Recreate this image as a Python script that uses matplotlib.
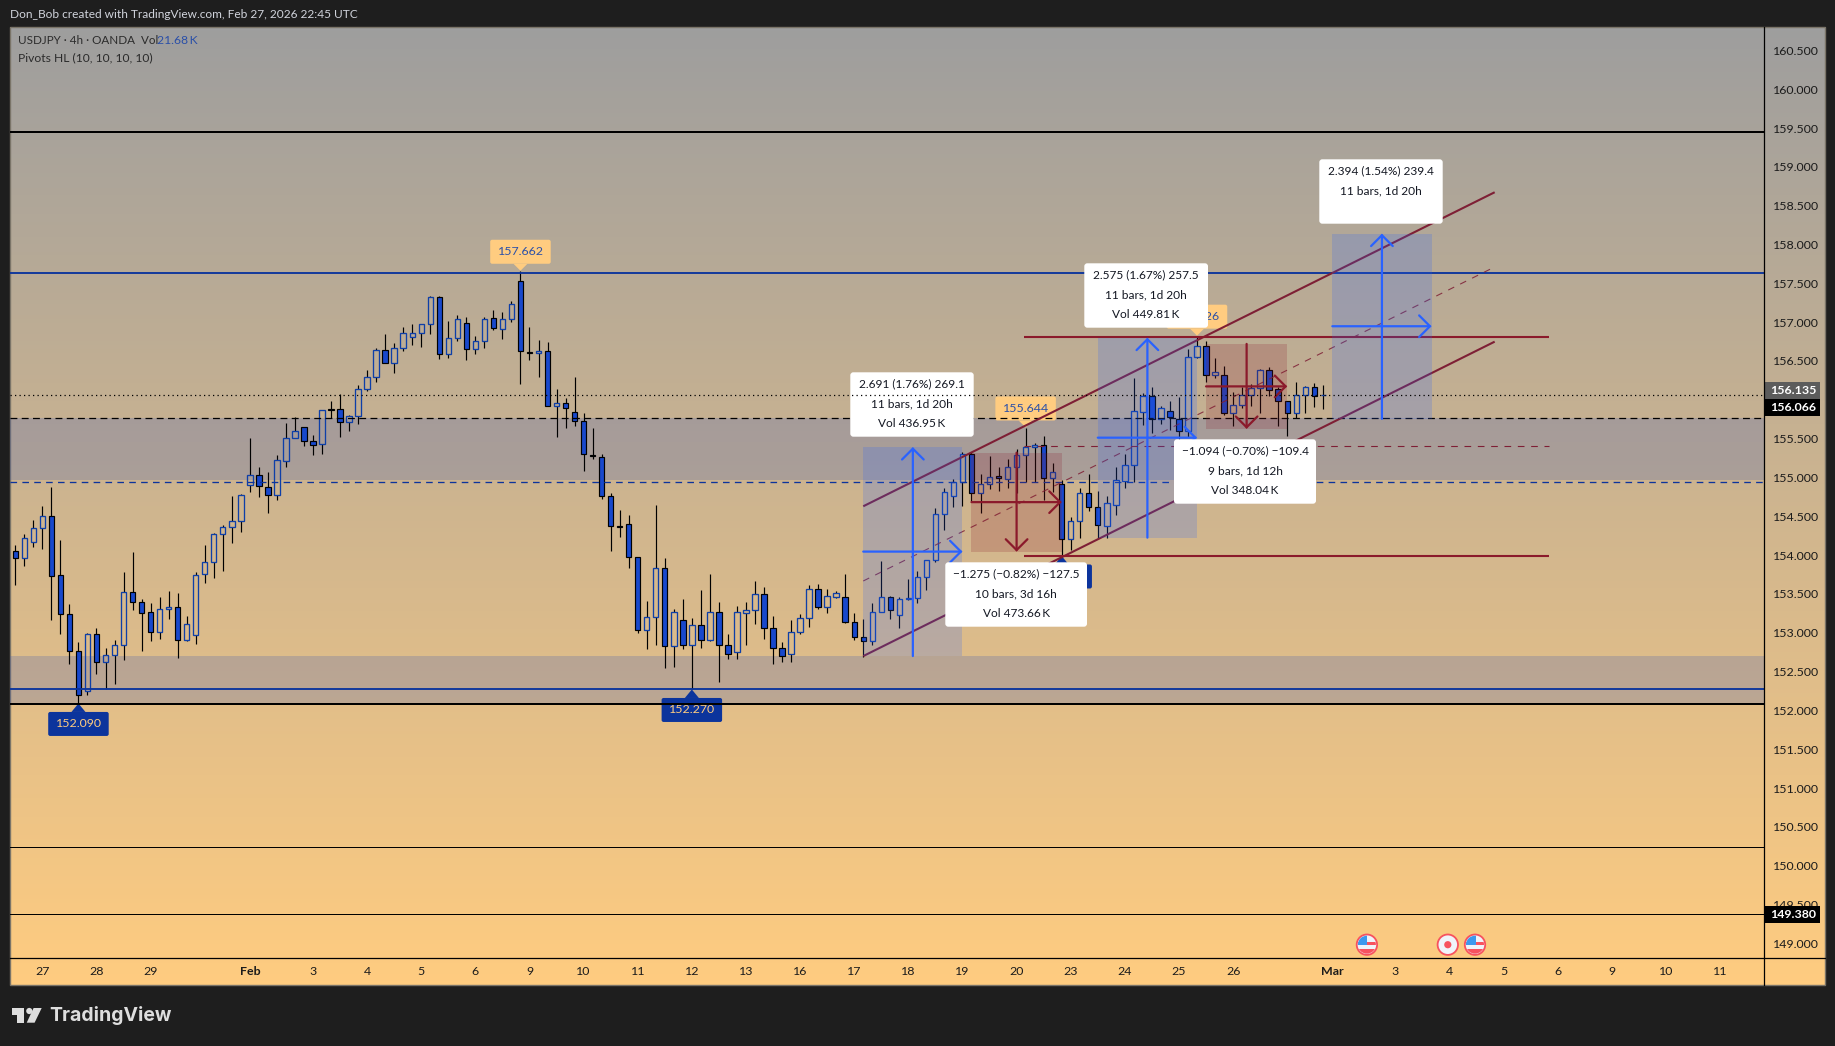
import numpy as np
import matplotlib
matplotlib.use('Agg')
import matplotlib.pyplot as plt
from matplotlib.patches import FancyBboxPatch, FancyArrowPatch, Polygon, Circle, Rectangle

W, H = 1835, 1046
FONT = 'Lato'
plt.rcParams['font.family'] = [FONT, 'DejaVu Sans']

# ---------------- data ----------------
opens = [154.049,153.959,154.165,154.346,154.500,153.740,153.238,152.762,152.247,152.981,152.620,152.710,152.839,153.522,153.393,153.264,153.007,153.303,153.328,152.904,152.968,153.753,153.908,154.268,154.358,154.436,154.899,155.028,154.874,154.771,155.217,155.505,155.646,155.466,155.428,155.878,155.878,155.711,155.788,156.136,156.290,156.638,156.471,156.664,156.805,156.857,156.973,157.320,156.586,156.792,156.986,156.651,156.754,157.050,156.916,157.045,157.526,156.620,156.599,156.633,155.916,155.955,155.848,155.723,155.294,155.268,154.758,154.371,154.397,153.972,153.032,153.200,153.831,152.826,153.161,152.839,153.097,152.903,153.264,152.839,152.749,153.251,153.290,153.496,153.058,152.800,152.723,153.006,153.187,153.560,153.328,153.457,153.457,153.135,152.942,152.891,153.264,153.457,153.234,153.431,153.452,153.714,153.933,154.525,154.766,154.937,155.298,154.796,154.912,155.015,154.976,155.131,155.285,155.392,155.414,154.989,154.912,154.204,154.435,154.796,154.616,154.380,154.650,154.959,155.157,155.848,156.045,155.749,155.852,155.758,155.595,156.547,156.689,156.316,156.324,155.826,155.929,156.058,156.148,156.380,156.135,155.981,155.826,156.058,156.161,156.058]
highs = [154.127,154.268,154.453,154.629,154.878,154.195,153.371,152.878,152.998,153.058,152.805,152.908,153.783,154.041,153.431,153.384,153.461,153.539,153.513,153.217,153.783,154.131,154.285,154.388,154.762,154.788,155.509,155.135,155.067,155.286,155.702,155.780,155.646,155.543,155.865,155.986,156.071,155.801,156.187,156.380,156.664,156.848,156.728,156.934,156.973,156.973,157.333,157.333,157.016,157.089,157.067,156.818,157.063,157.153,157.131,157.273,157.662,156.938,156.770,156.740,156.140,156.019,156.294,155.831,155.633,155.298,154.796,154.582,154.517,153.972,153.410,154.646,153.959,153.303,153.431,153.191,153.552,153.758,153.393,152.981,153.346,153.393,153.667,153.586,153.213,152.878,153.161,153.243,153.612,153.629,153.564,153.539,153.758,153.251,153.178,153.388,153.925,153.478,153.457,153.693,153.796,153.940,154.603,154.860,154.976,155.324,155.324,155.045,155.276,155.131,155.234,155.362,155.633,155.440,155.534,155.182,154.967,154.487,154.860,155.045,154.826,154.762,155.135,155.303,156.277,156.084,156.165,155.925,155.985,156.032,156.659,156.826,156.758,156.539,156.436,156.097,156.170,156.200,156.397,156.423,156.170,155.981,156.234,156.178,156.217,156.187]
lows = [153.620,153.865,154.110,154.084,153.170,152.989,152.603,152.090,152.204,152.474,152.277,152.346,152.655,153.298,152.770,152.899,152.925,153.182,152.680,152.895,152.861,153.646,153.710,153.796,154.161,154.294,154.818,154.753,154.548,154.715,155.140,155.505,155.410,155.295,155.307,155.771,155.526,155.599,155.694,156.119,156.234,156.471,156.350,156.629,156.711,156.681,156.848,156.531,156.543,156.758,156.513,156.591,156.668,156.904,156.788,157.002,156.208,156.513,156.298,155.916,155.526,155.642,155.667,155.088,155.243,154.728,154.054,154.234,153.835,153.002,152.796,152.848,152.552,152.564,152.796,152.270,152.805,152.895,152.371,152.667,152.667,152.848,153.118,152.921,152.594,152.629,152.629,152.981,153.079,153.303,153.260,153.450,153.130,152.903,152.693,152.848,153.264,153.178,153.062,153.425,153.388,153.551,153.916,154.324,154.620,154.633,154.697,154.547,154.852,154.826,154.860,154.796,154.937,154.937,154.710,154.809,153.989,154.066,154.221,154.564,154.221,154.225,154.522,154.869,154.946,155.676,155.577,155.689,155.612,155.346,155.526,156.540,156.234,156.286,155.805,155.659,155.899,155.921,155.835,156.049,155.663,155.539,155.760,155.835,155.904,155.886]
closes = [153.959,154.217,154.346,154.500,153.728,153.238,152.762,152.195,152.981,152.620,152.710,152.839,153.522,153.393,153.251,153.007,153.303,153.328,152.904,153.110,153.740,153.908,154.268,154.358,154.436,154.770,155.028,154.886,154.771,155.222,155.505,155.595,155.466,155.415,155.865,155.874,155.711,155.788,156.136,156.290,156.638,156.471,156.664,156.857,156.857,156.973,157.320,156.586,156.792,157.037,156.651,156.754,157.037,156.921,157.045,157.230,156.625,156.599,156.633,155.916,155.955,155.891,155.723,155.298,155.273,154.758,154.371,154.367,153.972,153.032,153.200,153.831,152.826,153.264,152.839,153.097,152.903,153.264,152.839,152.723,153.264,153.290,153.496,153.058,152.800,152.697,153.006,153.187,153.560,153.328,153.470,153.509,153.135,152.942,152.891,153.264,153.457,153.289,153.431,153.452,153.714,153.933,154.525,154.809,154.937,155.298,154.796,154.912,155.002,154.989,155.131,155.285,155.388,155.414,154.989,155.066,154.204,154.435,154.796,154.616,154.384,154.667,154.964,155.157,155.852,156.045,155.749,155.891,155.775,155.595,156.547,156.689,156.316,156.354,155.826,155.929,156.058,156.148,156.380,156.122,155.981,155.826,156.058,156.161,156.045,156.066]

date_ticks = [3,9,15,26,33,39,45,51,57,63,69,75,81,87,93,99,105,111,117,123,129,135,146,153,159,165,171,177,183,189]
date_labels = ['27','28','29','Feb','3','4','5','6','9','10','11','12','13','16','17','18','19','20','23','24','25','26','Mar','3','4','5','6','9','10','11']
price_ticks = [149.0,149.5,150.0,150.5,151.0,151.5,152.0,152.5,153.0,153.5,154.0,154.5,155.0,155.5,156.5,157.0,157.5,158.0,158.5,159.0,159.5,160.0,160.5]

zones = [(154.967, 155.76), (152.09, 152.70)]
black_levels = [(159.453, 2.0), (152.08, 2.0), (150.235, 1.0), (149.38, 1.0)]
blue_levels = [157.637, 152.27]
blue_dashed = 154.94
black_dashed = 155.76
last_price = 156.066

channel_bars = [94, 164]
channel_upper = [154.629, 158.673]
channel_mid = [153.667, 157.711]
channel_lower = [152.70, 156.749]
fib_bars = [111.8, 170]
fib_top, fib_mid, fib_bottom = 156.81, 155.40, 153.99

# (bar_start, bar_end, price_from, price_to)
long_ranges = [(94, 105, 152.70, 155.391), (120, 131, 154.225, 156.80), (146, 157, 155.755, 158.14)]
short_ranges = [(106, 116, 155.32, 154.045), (132, 141, 156.72, 155.626)]
# (bar, price, label, is_high)
pivots = [(56, 157.662, '157.662', True), (112, 155.644, '155.644', True), (131, 156.826, '156.826', True),
          (7, 152.090, '152.090', False), (75, 152.270, '152.270', False), (116, 153.989, '', False)]
# (left, top, right, lines) of the measure boxes
boxes = [(850.3, 372.3, 973.7, ['2.691 (1.76%) 269.1', '11 bars, 1d 20h', 'Vol 436.95\u2009K']),
         (945.3, 562.3, 1087, ['\u22121.275 (\u22120.82%) \u2212127.5', '10 bars, 3d 16h', 'Vol 473.66\u2009K']),
         (1084.3, 263.3, 1208, ['2.575 (1.67%) 257.5', '11 bars, 1d 20h', 'Vol 449.81\u2009K']),
         (1174, 439.3, 1316, ['\u22121.094 (\u22120.70%) \u2212109.4', '9 bars, 1d 12h', 'Vol 348.04\u2009K']),
         (1319.3, 159.3, 1442.7, ['2.394 (1.54%) 239.4', '11 bars, 1d 20h', ''])]

# ---------------- frame ----------------
DARK = '#1E1E1E'
fig = plt.figure(figsize=(W / 100, H / 100), dpi=100, facecolor=DARK)

def frac(l, t, r, b):
    return [l / W, 1 - b / H, (r - l) / W, (b - t) / H]

bg = fig.add_axes([0, 0, 1, 1], zorder=0)
bg.set_xlim(0, W); bg.set_ylim(H, 0); bg.axis('off')
top_c = np.array([158, 158, 158]) / 255
bot_c = np.array([255, 204, 128]) / 255
t = np.linspace(0, 1, 256)[:, None, None]
bg.imshow(top_c[None, None, :] * (1 - t) + bot_c[None, None, :] * t, extent=[10, 1825, 985, 27], aspect='auto')
bg.set_xlim(0, W); bg.set_ylim(H, 0)
bg.add_patch(Rectangle((10, 27), 1815, 958, fill=False, ec='#7a7468', lw=1))

ax = fig.add_axes(frac(10, 27, 1763.5, 958), zorder=1)
ax.patch.set_alpha(0)
ax.set_xlim(-0.588, 193.8)
ax.set_ylim(148.812, 160.801)
for s in ax.spines.values():
    s.set_visible(False)

ui = fig.add_axes([0, 0, 1, 1], zorder=2)
ui.set_xlim(0, W); ui.set_ylim(H, 0); ui.axis('off'); ui.patch.set_alpha(0)
UI = ui.transData

# ticks
TEXT = '#1b1b1b'
LABEL_FS = 8.9
ax.yaxis.tick_right()
ax.set_yticks(price_ticks)
ax.set_yticklabels([f'{p:.3f}' for p in price_ticks], fontsize=LABEL_FS, color=TEXT)
ax.tick_params(axis='y', length=0, pad=6.5)
ax.set_xticks(date_ticks)
ax.set_xticklabels(date_labels, fontsize=LABEL_FS, color=TEXT)
ax.tick_params(axis='x', length=0, pad=6)
for lab in ax.get_xticklabels():
    if lab.get_text() in ('Feb', 'Mar'):
        lab.set_fontweight('bold')

# ---------------- zones and levels ----------------
for lo, hi in zones:
    ax.axhspan(lo, hi, color='#4960B1', alpha=0.25, lw=0, zorder=1)

# ---------------- pivots ----------------
def pivot_tag(n, price, label, is_high):
    x, y = ax.transData.transform((n, price))
    y = H - y
    face, col = ('#FFCC80', '#2A4FA8') if is_high else ('#0C349C', '#FFCC80')
    w, h, gap = 60.5, 24, 7
    if is_high:
        top = y - gap - h
        tri = [(x, y), (x - 7, y - gap), (x + 7, y - gap)]
    else:
        top = y + gap + 1.5
        tri = [(x, y), (x - 7, y + gap + 1.5), (x + 7, y + gap + 1.5)]
    ax.add_patch(Polygon(tri, closed=True, fc=face, ec='none', transform=UI, zorder=2, clip_on=False))
    ax.add_patch(FancyBboxPatch((x - w / 2 + 2, top + 2), w - 4, h - 4, boxstyle='round,pad=2,rounding_size=2',
                                fc=face, ec='none', transform=UI, zorder=2, clip_on=False))
    if label:
        ax.text(x, top + h / 2, label, color=col, fontsize=LABEL_FS, ha='center', va='center', transform=UI, zorder=2.1)

for piv in pivots:
    pivot_tag(*piv)

# ---------------- candles ----------------
BLUE_F, BLUE_E = '#1848CC', '#0E3FA8'
for i, (o, h_, l, c) in enumerate(zip(opens, highs, lows, closes)):
    top, bot = max(o, c), min(o, c)
    ax.vlines(i, top, h_, color='black', lw=0.85, zorder=3)
    ax.vlines(i, l, bot, color='black', lw=0.85, zorder=3)
    if c < o:
        ax.bar(i, top - bot, bottom=bot, width=0.6, fc=BLUE_F, ec='black', lw=0.85, zorder=3.1)
    else:
        ax.bar(i, top - bot, bottom=bot, width=0.6, fc='none', ec=BLUE_E, lw=0.95, zorder=3.1)

# ---------------- horizontal lines ----------------
for level, px in black_levels:
    ax.axhline(level, color='black', lw=px * 0.72, zorder=4)
for level in blue_levels:
    ax.axhline(level, color='#0C349C', lw=1.35, zorder=4)
ax.axhline(blue_dashed, color='#0C349C', lw=0.95, ls=(0, (5, 4)), zorder=4)
ax.axhline(black_dashed, color='black', lw=0.9, ls=(0, (5.5, 3.5)), zorder=4)

# ---------------- drawings ----------------
MAROON = '#8B1A2B'
CH = '#7E1F35'
ax.plot(channel_bars, channel_upper, color=CH, lw=1.5, zorder=5, solid_capstyle='butt')
ax.plot(channel_bars, channel_lower, color=CH, lw=1.5, zorder=5, solid_capstyle='butt')
ax.plot(channel_bars, channel_mid, color=CH, lw=0.8, ls=(0, (6, 6)), alpha=0.85, zorder=5)
ax.plot(fib_bars, [fib_top, fib_top], color=MAROON, lw=1.5, zorder=5, solid_capstyle='butt')
ax.plot(fib_bars, [fib_bottom, fib_bottom], color=MAROON, lw=1.5, zorder=5, solid_capstyle='butt')
ax.plot(fib_bars, [fib_mid, fib_mid], color=CH, lw=0.8, ls=(0, (6, 6)), zorder=5)

def arrow(p0, p1, col):
    ax.add_patch(FancyArrowPatch(p0, p1, arrowstyle='->,head_length=0.78,head_width=0.78', mutation_scale=10,
                                 color=col, lw=1.6, shrinkA=0, shrinkB=0, zorder=6, joinstyle='miter'))

def measure(rng, col):
    a, b, p0, p1 = rng
    ax.add_patch(Rectangle((a, min(p0, p1)), b - a, abs(p1 - p0), fc=col, ec='none', alpha=0.2, zorder=5.5))
    arrow(((a + b) / 2, p0), ((a + b) / 2, p1), col)
    mid = (p0 + p1) / 2
    arrow((a, mid), (b, mid), col)

for r in long_ranges:
    measure(r, '#2962FF')
for r in short_ranges:
    measure(r, MAROON)

# measure labels
for l, top, r, lines in boxes:
    ax.add_patch(FancyBboxPatch((l + 3, top + 3), r - l - 6, 64.4 - 6, boxstyle='round,pad=3,rounding_size=3',
                                fc='white', ec='none', transform=UI, zorder=7, clip_on=False))
    for k, s in enumerate(lines):
        if s:
            ax.text((l + r) / 2, top + 11.4 + 20 * k, s, color='#131722', fontsize=8.6, ha='center', va='center',
                    transform=UI, zorder=7.1)

# last price line over everything in the pane
ax.axhline(last_price, color='black', lw=0.9, ls=(0, (1, 2.6)), zorder=8)

# ---------------- chrome ----------------
ui.plot([10, 1825], [958, 958], color='black', lw=0.9)
ui.plot([1763.5, 1763.5], [27, 985], color='black', lw=0.9)

def price_tag(top, bottom, label, face):
    ui.add_patch(Rectangle((1763.5, top), 56.5, bottom - top, fc=face, ec='none'))
    ui.text(1793, (top + bottom) / 2, label, color='white', fontsize=LABEL_FS, ha='center', va='center', fontweight='bold')

price_tag(382, 399, '156.135', '#5C5C5C')
price_tag(399, 416, '156.066', 'black')
price_tag(906, 922.5, '149.380', 'black')

ui.text(10, 14.5, 'Don_Bob created with TradingView.com, Feb 27, 2026 22:45 UTC', color='#D1D4DC', fontsize=8.55, va='center')
ui.text(18, 41, 'USDJPY \u00b7 4h \u00b7 OANDA  Vol', color='#2b2b2b', fontsize=8.4, va='center')
ui.text(157, 41, '21.68\u2009K', color='#2A4FA8', fontsize=8.7, va='center')
ui.text(18, 58, 'Pivots HL (10, 10, 10, 10)', color='#2b2b2b', fontsize=8.7, va='center')

# logo
LOGO = '#DEDEDE'
ui.add_patch(Polygon([(12.3, 1008), (24, 1008), (24, 1022.7), (17.3, 1022.7), (17.3, 1015), (12.3, 1015)], closed=True, fc=LOGO, ec='none'))
ui.add_patch(Circle((29.3, 1011), 3.1, fc=LOGO, ec='none'))
ui.add_patch(Polygon([(33.6, 1008), (41.7, 1008), (34.6, 1022.7), (26.7, 1022.7)], closed=True, fc=LOGO, ec='none'))
ui.text(49.5, 1015.5, 'TradingView', color=LOGO, fontsize=14, fontfamily='Inter', fontweight='bold', va='center')

# calendar icons
def us_flag(cx, cy, r=10.2):
    ring = Circle((cx, cy), r, fc='#F0F3FA', ec='#F7525F', lw=1.3)
    ui.add_patch(ring)
    clip = Circle((cx, cy), r - 1.2, transform=UI)
    for s in [(cy - 3.2, 3.2, '#F7525F'), (cy + 4.2, 5, '#F7525F')]:
        p = Rectangle((cx - r, s[0]), 2 * r, s[1], fc=s[2], ec='none')
        ui.add_patch(p); p.set_clip_path(clip)
    b = Rectangle((cx - r, cy - r), r * 1.05, r * 1.05, fc='#3D98EE', ec='none')
    ui.add_patch(b); b.set_clip_path(clip)

def dot_icon(cx, cy, r=10.2):
    ui.add_patch(Circle((cx, cy), r, fc='#F0F3FA', ec='#F7525F', lw=1.3))
    ui.add_patch(Circle((cx, cy), 3.6, fc='#F7525F', ec='none'))

us_flag(1366.9, 944.7)
dot_icon(1447.8, 944.7)
us_flag(1475, 944.7)

fig.savefig('out.png', dpi=100, facecolor=DARK)
